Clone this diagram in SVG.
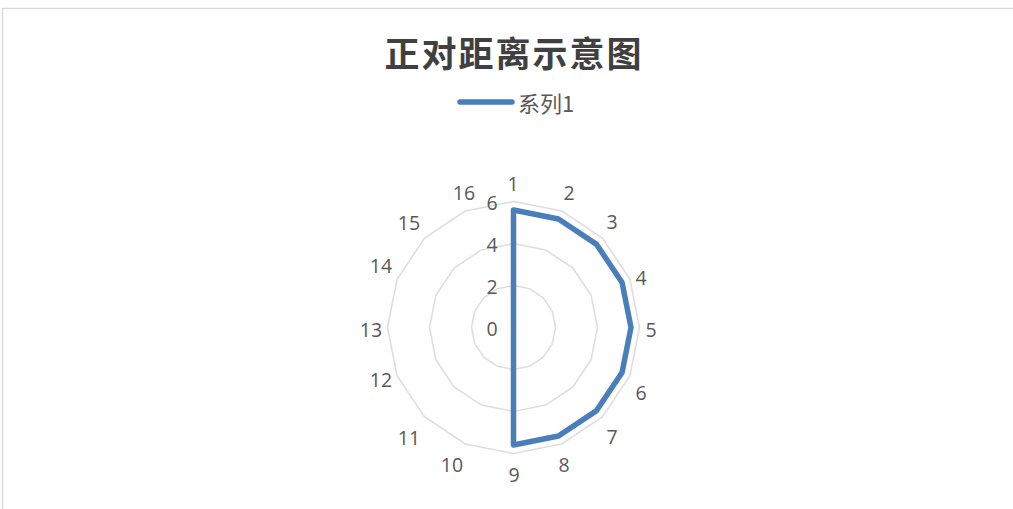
<svg xmlns="http://www.w3.org/2000/svg" width="1013" height="509" viewBox="0 0 1013 509">
<style>
.bg{fill:#ffffff}
.frame{fill:none;stroke:#d9d9d9;stroke-width:1.3}
.grid{fill:none;stroke:#dedede;stroke-width:1.6}
.series{fill:none;stroke:#4a7ebb;stroke-width:5.5;stroke-linejoin:round}
.lab{font-family:"Open Sans","Noto Sans",sans-serif;font-size:19.5px;fill:#595959;text-anchor:middle;dominant-baseline:central}
.title{font-family:"Noto Sans CJK SC",sans-serif;font-size:35px;font-weight:bold;fill:#404040;text-anchor:middle;dominant-baseline:central;letter-spacing:2px}
.leg{font-family:"Noto Sans CJK SC",sans-serif;font-size:22px;fill:#595959;dominant-baseline:central}
</style>
<rect class="bg" x="0" y="0" width="1013" height="509"/>
<rect class="frame" x="2.5" y="8.5" width="1030" height="520"/>
<g id="title"><text class="title" x="514" y="51">正对距离示意图</text></g>
<g id="legend">
<line x1="460" y1="102" x2="512" y2="102" stroke="#4a7ebb" stroke-width="5.5" stroke-linecap="round"/>
<text class="leg" x="518" y="102">系列1</text>
</g>
<g id="grid">
<polygon class="grid" points="513.5,285.5 529.57,288.7 543.2,297.8 552.3,311.43 555.5,327.5 552.3,343.57 543.2,357.2 529.57,366.3 513.5,369.5 497.43,366.3 483.8,357.2 474.7,343.57 471.5,327.5 474.7,311.43 483.8,297.8 497.43,288.7"/>
<polygon class="grid" points="513.5,243.5 545.65,249.89 572.9,268.1 591.11,295.35 597.5,327.5 591.11,359.65 572.9,386.9 545.65,405.11 513.5,411.5 481.35,405.11 454.1,386.9 435.89,359.65 429.5,327.5 435.89,295.35 454.1,268.1 481.35,249.89"/>
<polygon class="grid" points="513.5,201.5 561.72,211.09 602.6,238.4 629.91,279.28 639.5,327.5 629.91,375.72 602.6,416.6 561.72,443.91 513.5,453.5 465.28,443.91 424.4,416.6 397.09,375.72 387.5,327.5 397.09,279.28 424.4,238.4 465.28,211.09"/>
</g>
<g id="axis-values">
<text class="lab" x="492" y="202">6</text>
<text class="lab" x="492" y="244">4</text>
<text class="lab" x="492" y="286">2</text>
<text class="lab" x="492" y="328">0</text>
</g>
<g id="categories">
<text class="lab" x="513" y="183">1</text>
<text class="lab" x="569" y="192">2</text>
<text class="lab" x="612" y="221">3</text>
<text class="lab" x="641" y="277">4</text>
<text class="lab" x="651" y="329">5</text>
<text class="lab" x="641" y="392">6</text>
<text class="lab" x="612" y="436">7</text>
<text class="lab" x="564" y="464">8</text>
<text class="lab" x="514" y="474">9</text>
<text class="lab" x="452" y="464">10</text>
<text class="lab" x="409" y="437">11</text>
<text class="lab" x="381" y="379">12</text>
<text class="lab" x="371" y="329">13</text>
<text class="lab" x="381" y="265">14</text>
<text class="lab" x="409" y="222">15</text>
<text class="lab" x="464" y="192">16</text>
</g>
<g id="connectors">
<polygon class="series" points="513.5,210 558.47,218.94 596.59,244.41 622.06,282.53 631,327.5 622.06,372.47 596.59,410.59 558.47,436.06 513.5,445 513.5,327.5"/>
</g>
</svg>
